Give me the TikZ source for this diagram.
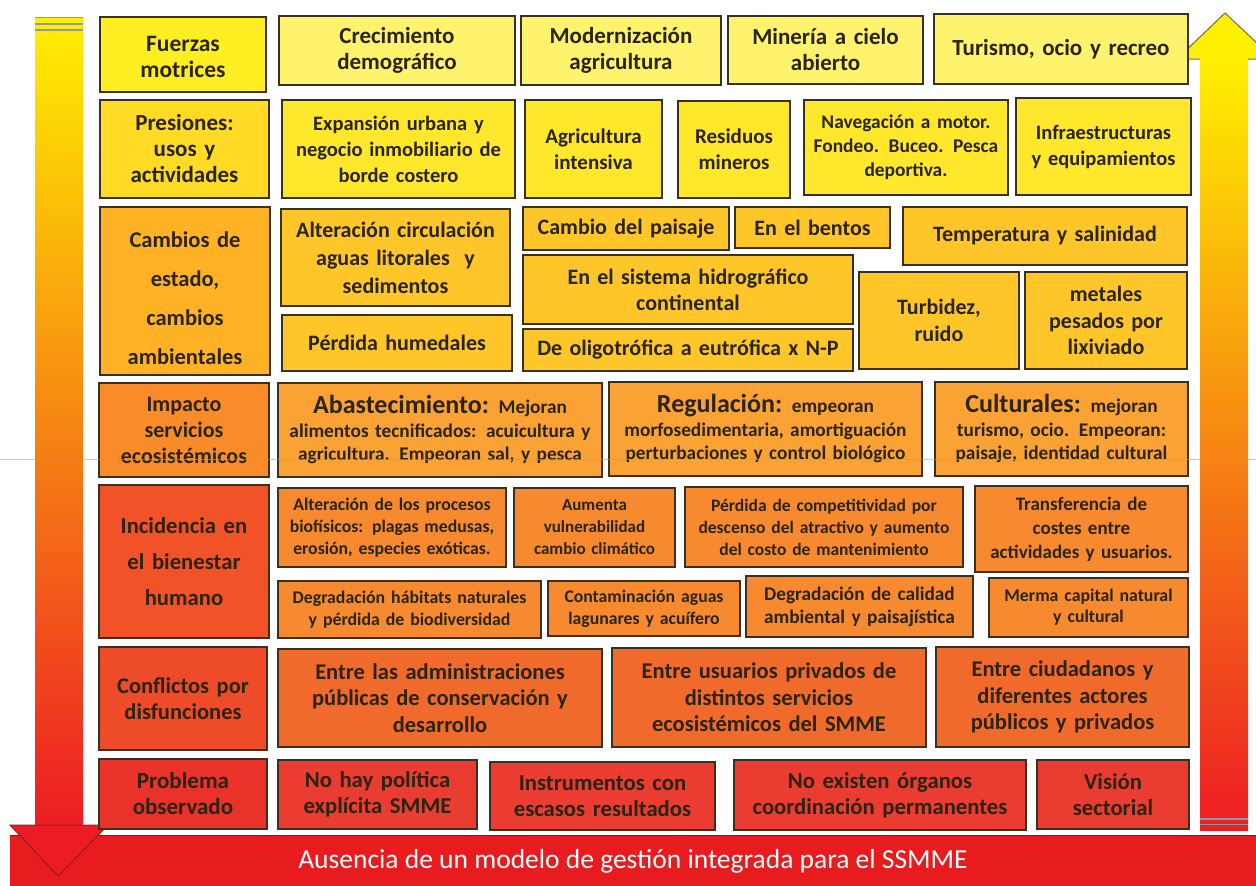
\documentclass[tikz,border=0pt]{standalone}
\usepackage{fontspec}
\setmainfont{Carlito}
\definecolor{txt}{HTML}{2A2414}
\definecolor{bline}{HTML}{3A3020}
\definecolor{rAl}{HTML}{FFEE22}\definecolor{rAc}{HTML}{FFF36E}
\definecolor{rBl}{HTML}{FFDB26}\definecolor{rBc}{HTML}{FFE82C}
\definecolor{rCl}{HTML}{FFB224}\definecolor{rCc}{HTML}{FFC62A}
\definecolor{rDl}{HTML}{F98C28}\definecolor{rDc}{HTML}{FBA234}
\definecolor{rEl}{HTML}{F25228}\definecolor{rEc}{HTML}{F78A2E}
\definecolor{rFl}{HTML}{EE4C28}\definecolor{rFc}{HTML}{F06A2C}
\definecolor{rGl}{HTML}{E8322A}\definecolor{rGc}{HTML}{EA3C30}
\definecolor{ayel}{HTML}{FFF000}
\definecolor{aora}{HTML}{F7931E}
\definecolor{ared}{HTML}{ED1C24}
\definecolor{barred}{HTML}{E81C1E}
\definecolor{edgegray}{HTML}{8A98A8}
\definecolor{scanline}{HTML}{F08080}
\tikzset{
  box/.style={draw=bline, line width=1.7pt, rectangle, align=center, text=txt, inner sep=0.5pt},
  fs/.style 2 args={font=\fontsize{#1}{#2}\selectfont\bfseries},
}
\newcommand\bx[7]{%
  \pgfmathsetmacro\bxw{#4-#2}%
  \pgfmathsetmacro\bxh{#5-#3}%
  \pgfmathsetmacro\bxt{#4-#2-2}%
  \node[box,#6,minimum width=\bxw pt,minimum height=\bxh pt,text width=\bxt pt] (#1) at ({(#2+#4)/2},{(#3+#5)/2}) {#7};}
\begin{document}
\begin{tikzpicture}[x=1pt,y=-1pt]
\useasboundingbox (0,0) rectangle (1256,886);
\clip (0,0) rectangle (1256,886);
\fill[white] (0,0) rectangle (1256,886);

% bottom bar
\node[fill=barred, minimum width=1246pt, minimum height=50pt, inner sep=0pt, text=white,
      font=\fontsize{27.5}{30}\selectfont] (bar) at (633,861) {Ausencia de un modelo de gestión integrada para el SSMME};
\draw[line width=1.2pt, draw={rgb,255:red,110;green,30;blue,50}] (bar.north west) -- (bar.north east);

% left arrow (down)
\shade[top color=ayel, middle color=aora, bottom color=ared] (35,17) rectangle (83,826);
\draw[edgegray, line width=1.3pt] (35,17.5) -- (83,17.5) (35,24) -- (83,24) (35,30) -- (83,30);
\draw[fill=ared, draw={rgb,255:red,150;green,30;blue,40}, line width=1pt] (10,825) -- (108,825) -- (58,876) -- cycle;

% right arrow (up)
\shade[top color=ayel, middle color=aora, bottom color=ared] (1200,58) rectangle (1248,830);
\draw[edgegray, line width=1.3pt] (1200,819) -- (1248,819) (1200,824.5) -- (1248,824.5);
\fill[ayel] (1178,58.5) -- (1273,58.5) -- (1225,14) -- cycle;
\draw[draw={rgb,255:red,120;green,105;blue,40}, line width=1pt] (1177,59) -- (1225,13) -- (1274,59) (1177,59) -- (1200,59) (1248,59) -- (1274,59);

% Row 1
\bx{lA}{100}{17}{266}{92}{fill=rAl,fs={23.5}{26}}{\rule{0pt}{20pt}Fuerzas\\motrices}
\bx{cA1}{279}{16}{515}{85}{fill=rAc,fs={23}{26}}{Crecimiento\\demográfico}
\bx{cA2}{521}{16}{721}{85}{fill=rAc,fs={23}{26}}{Modernización\\agricultura}
\bx{cA3}{728}{16}{923}{84}{fill=rAc,fs={23}{26}}{Minería a cielo\\abierto}
\bx{cA4}{934}{14}{1188}{84}{fill=rAc,fs={23}{26}}{Turismo, ocio y recreo}

% Row 2
\bx{lB}{100}{100}{269}{198}{fill=rBl,fs={23}{26}}{Presiones:\\usos y\\actividades}
\bx{cB1}{282}{100}{515}{198}{fill=rBc,fs={20.5}{26}}{Expansión urbana y\\negocio inmobiliario de\\borde costero}
\bx{cB2}{525}{100}{662}{198}{fill=rBc,fs={21}{26}}{Agricultura\\intensiva}
\bx{cB3}{678}{101}{790}{198}{fill=rBc,fs={21}{26}}{Residuos\\mineros}
\bx{cB4}{804}{100}{1008}{195}{fill=rBc,fs={19.4}{24}}{Navegación a motor.\\Fondeo. Buceo. Pesca\\deportiva.}
\bx{cB5}{1016}{98}{1191}{195}{fill=rBc,fs={20.5}{26}}{Infraestructuras\\y equipamientos}

% Row 3
\bx{lC}{100}{207}{270}{375}{fill=rCl,fs={22.5}{39}}{\rule{0pt}{30pt}Cambios de\\estado,\\cambios\\ambientales}
\bx{cC1}{281}{209}{510}{306}{fill=rCc,fs={22}{28}}{Alteración circulación\\aguas litorales \ y\\sedimentos}
\bx{cC2}{282}{315}{512}{371}{fill=rCc,fs={22}{27}}{Pérdida humedales}
\bx{cC3}{523}{207}{729}{250}{fill=rCc,fs={22}{27}}{Cambio del paisaje}
\bx{cC4}{735}{207}{890}{248}{fill=rCc,fs={22}{27}}{En el bentos}
\bx{cC5}{903}{207}{1187}{265}{fill=rCc,fs={22}{27}}{Temperatura y salinidad}
\bx{cC6}{523}{255}{853}{324}{fill=rCc,fs={22}{26}}{En el sistema hidrográfico\\continental}
\bx{cC7}{523}{329}{853}{371}{fill=rCc,fs={22}{27}}{De oligotrófica a eutrófica x N-P}
\bx{cC8}{859}{272}{1019}{369}{fill=rCc,fs={22}{27}}{Turbidez,\\ruido}
\bx{cC9}{1025}{272}{1187}{369}{fill=rCc,fs={22}{26.5}}{metales\\pesados por\\lixiviado}

% Row 4
\bx{lD}{99}{383}{269}{477}{fill=rDl,fs={22}{26}}{Impacto\\servicios\\ecosistémicos}
\bx{cD1}{278}{383}{602}{477}{fill=rDc,fs={19.3}{23.5}}{{\fontsize{26}{24}\selectfont Abastecimiento:} Mejoran\\alimentos tecnificados: acuicultura y\\agricultura. Empeoran sal, y pesca}
\bx{cD2}{609}{382}{922}{476}{fill=rDc,fs={19.3}{23.5}}{{\fontsize{26}{24}\selectfont Regulación:} empeoran\\morfosedimentaria, amortiguación\\perturbaciones y control biológico}
\bx{cD3}{935}{382}{1188}{476}{fill=rDc,fs={19.3}{23.5}}{{\fontsize{26}{24}\selectfont Culturales:} mejoran\\turismo, ocio. Empeoran:\\paisaje, identidad cultural}

% Row 5
\bx{lE}{99}{485}{269}{638}{fill=rEl,fs={22.7}{36}}{Incidencia en\\el bienestar\\humano}
\bx{cE1}{278}{488}{506}{567}{fill=rEc,fs={17.7}{22}}{Alteración de los procesos\\biofísicos: plagas medusas,\\erosión, especies exóticas.}
\bx{cE2}{514}{488}{675}{567}{fill=rEc,fs={17}{22}}{Aumenta\\vulnerabilidad\\cambio climático}
\bx{cE3}{685}{487}{963}{567}{fill=rEc,fs={17.5}{22}}{Pérdida de competitividad por\\descenso del atractivo y aumento\\del costo de mantenimiento}
\bx{cE4}{975}{486}{1188}{572}{fill=rEc,fs={19}{24}}{Transferencia de\\costes entre\\actividades y usuarios.}
\bx{cE5}{278}{581}{541}{638}{fill=rEc,fs={17.8}{22}}{Degradación hábitats naturales\\y pérdida de biodiversidad}
\bx{cE6}{548}{581}{740}{636}{fill=rEc,fs={17.7}{22}}{Contaminación aguas\\lagunares y acuífero}
\bx{cE7}{746}{576}{973}{637}{fill=rEc,fs={19.3}{23}}{Degradación de calidad\\ambiental y paisajística}
\bx{cE8}{989}{578}{1188}{637}{fill=rEc,fs={17.8}{21}}{Merma capital natural\\y cultural}

% Row 6
\bx{lF}{99}{647}{267}{750}{fill=rFl,fs={22.5}{26}}{Conflictos por\\disfunciones}
\bx{cF1}{278}{649}{602}{747}{fill=rFc,fs={22.5}{26.5}}{Entre las administraciones\\públicas de conservación y\\desarrollo}
\bx{cF2}{612}{648}{926}{747}{fill=rFc,fs={22.5}{26.5}}{Entre usuarios privados de\\distintos servicios\\ecosistémicos del SMME}
\bx{cF3}{936}{647}{1189}{747}{fill=rFc,fs={22.5}{26.5}}{Entre ciudadanos y\\diferentes actores\\públicos y privados}

% Row 7
\bx{lG}{99}{759}{267}{829}{fill=rGl,fs={23}{26}}{Problema\\observado}
\bx{cG1}{278}{760}{477}{829}{fill=rGc,fs={22.7}{26}}{No hay política\\explícita SMME}
\bx{cG2}{490}{762}{715}{830}{fill=rGc,fs={22.7}{26}}{Instrumentos con\\escasos resultados}
\bx{cG3}{734}{760}{1026}{830}{fill=rGc,fs={22.7}{26}}{No existen órganos\\coordinación permanentes}
\bx{cG4}{1037}{760}{1189}{829}{fill=rGc,fs={22.7}{26}}{Visión\\sectorial}

% faint scan line
\draw[scanline, opacity=0.6, line width=0.8pt] (0,459) -- (1256,459);
\end{tikzpicture}
\end{document}
